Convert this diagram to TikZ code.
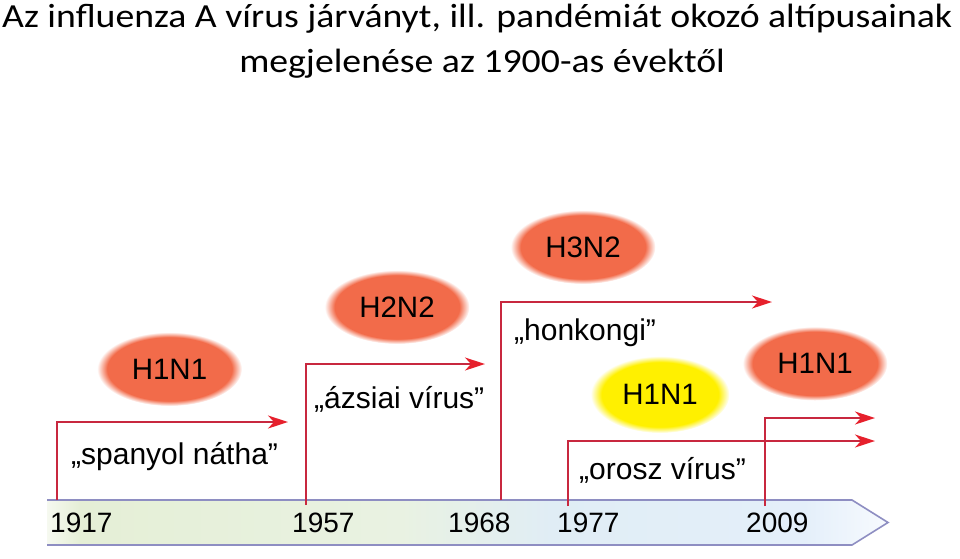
\documentclass[tikz,border=0pt]{standalone}
\usepackage{fontspec}
\setmainfont{Liberation Sans}
\newfontfamily\titlefont{Carlito}
\usetikzlibrary{shapes.geometric,arrows.meta}
\definecolor{ellO}{HTML}{F26B4A}
\definecolor{ellY}{HTML}{FFF000}
\definecolor{lineR}{HTML}{C8283F}
\definecolor{headR}{HTML}{E6202C}
\definecolor{barEdge}{HTML}{8E8EC2}
\definecolor{barW}{HTML}{F6F9F0}
\definecolor{barG}{HTML}{E5EFD6}
\definecolor{barG2}{HTML}{E9F2E2}
\definecolor{barB}{HTML}{E0EDF5}
\definecolor{barB2}{HTML}{E4EFFA}
\definecolor{barW2}{HTML}{F7FAFE}
\pgfdeclareradialshading{softorange}{\pgfpoint{0bp}{0bp}}{color(0bp)=(ellO); color(21.5bp)=(ellO); color(25bp)=(white); color(50bp)=(white)}
\pgfdeclareradialshading{softyellow}{\pgfpoint{0bp}{0bp}}{color(0bp)=(ellY); color(21bp)=(ellY); color(25bp)=(white); color(50bp)=(white)}
\pgfdeclarehorizontalshading{barshade}{100bp}{color(0bp)=(barW); color(25bp)=(barW); color(27bp)=(barG); color(46bp)=(barG2); color(55bp)=(barB); color(70bp)=(barB2); color(75bp)=(barW2); color(100bp)=(barW2)}
\tikzset{
  virus/.style={ellipse, draw=none, inner sep=0pt, minimum width=145pt, minimum height=74pt, shading=softorange, font=\fontsize{29.5}{34}\selectfont},
  virusY/.style={virus, shading=softyellow, minimum width=139pt, minimum height=77pt},
  nick/.style={anchor=base west, inner sep=0pt, font=\fontsize{30}{36}\selectfont},
  year/.style={anchor=base west, inner sep=0pt, font=\fontsize{28}{34}\selectfont},
  ttl/.style={inner sep=0pt, font=\titlefont\fontsize{33.7}{40}\selectfont},
  redarrow/.style={draw=lineR, line width=1.9pt, -{Stealth[length=20pt,width=13pt,inset=6pt,fill=headR,color=headR]}},
}
\begin{document}
\begin{tikzpicture}[x=1pt,y=-1pt]
\useasboundingbox (0,0) rectangle (960,558);
% title
\node[ttl, anchor=base west] (t1) at (2,27) {\scalebox{1.12}[1]{Az influenza A vírus járványt, ill. pandémiát okozó altípusainak}};
\node[ttl, anchor=base] (t2) at (482,72) {\scalebox{1.12}[1]{megjelenése az 1900-as évektől}};
% timeline bar
\path[shading=barshade] (47,500) -- (852,500) -- (888,522.5) -- (852,545) -- (47,545) -- cycle;
\draw[barEdge, line width=1.6pt] (47,500) -- (852,500) -- (888,522.5) -- (852,545) -- (47,545);
% start and end points
\coordinate (s1917) at (57,500);
\coordinate (e1917) at (288,422);
\coordinate (s1957) at (306,505);
\coordinate (e1957) at (485,364);
\coordinate (s1968) at (501,500);
\coordinate (e1968) at (772,302);
\coordinate (s1977) at (568,506);
\coordinate (e1977) at (875,441);
\coordinate (s2009) at (765,506);
\coordinate (e2009) at (875,418);
% connectors
\draw[redarrow] (s1917) |- (e1917);
\draw[redarrow] (s1957) |- (e1957);
\draw[redarrow] (s1968) |- (e1968);
\draw[redarrow] (s1977) |- (e1977);
\draw[redarrow] (s2009) |- (e2009);
% years
\node[year] (y1917) at (50,532) {1917};
\node[year] (y1957) at (292,532) {1957};
\node[year] (y1968) at (448,532) {1968};
\node[year] (y1977) at (557,532) {1977};
\node[year] (y2009) at (746,532) {2009};
% nicknames
\node[nick] (n1) at (71,464) {„spanyol nátha”};
\node[nick] (n2) at (314,408) {„ázsiai vírus”};
\node[nick] (n3) at (514,340) {„honkongi”};
\node[nick] (n4) at (579,479) {„orosz vírus”};
% virus ellipses
\node[virus] (v1) at (169.5,369) {H1N1};
\node[virus] (v2) at (397,307) {H2N2};
\node[virus] (v3) at (583,247) {H3N2};
\node[virusY] (v4) at (660,394.5) {H1N1};
\node[virus] (v5) at (815,363.5) {H1N1};
\end{tikzpicture}
\end{document}
